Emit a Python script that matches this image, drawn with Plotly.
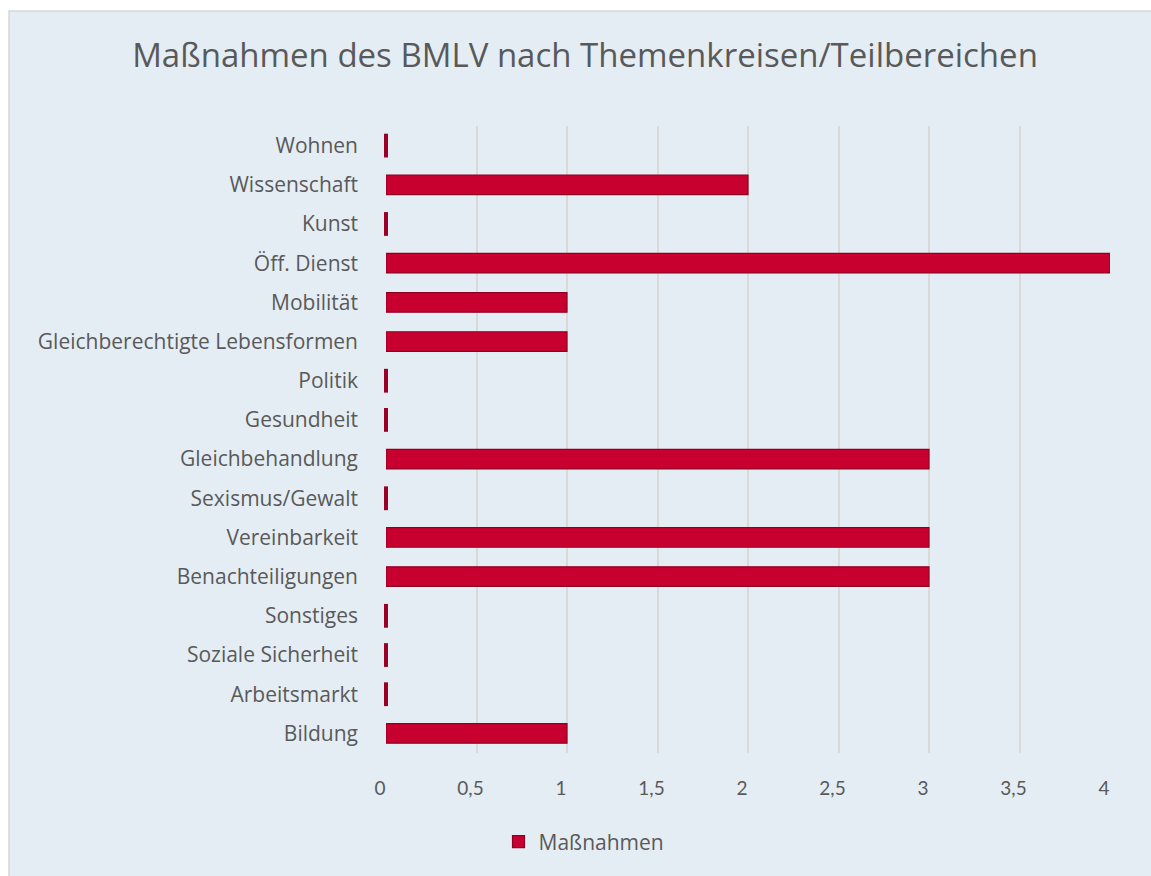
import plotly.graph_objects as go

categories = ["Bildung", "Arbeitsmarkt", "Soziale Sicherheit", "Sonstiges",
              "Benachteiligungen", "Vereinbarkeit", "Sexismus/Gewalt",
              "Gleichbehandlung", "Gesundheit", "Politik",
              "Gleichberechtigte Lebensformen", "Mobilität", "Öff. Dienst",
              "Kunst", "Wissenschaft", "Wohnen"]
values = [1, 0, 0, 0, 3, 3, 0, 3, 0, 0, 1, 1, 4, 0, 2, 0]
x_ticks = [0, 0.5, 1, 1.5, 2, 2.5, 3, 3.5, 4]
series_name = "Maßnahmen"
title_text = "Maßnahmen des BMLV nach Themenkreisen/Teilbereichen"

W, H = 1151, 876
L = 386
R = W - 1110
T = 126
B = H - 753
pw, ph = W - L - R, H - T - B

fig = go.Figure()
fig.add_trace(go.Bar(
    y=categories, x=values, orientation="h", name=series_name,
    marker=dict(color="#C8002F", line=dict(color="#8E0022", width=1.2)),
    showlegend=True,
))
zero_cats = [c for c, v in zip(categories, values) if v == 0]
zero_vals = [v for v in values if v == 0]
fig.add_trace(go.Scatter(
    y=zero_cats, x=zero_vals, mode="markers", showlegend=False,
    marker=dict(symbol="line-ns", size=17, color="#9A0026",
                line=dict(color="#9A0026", width=4)),
    hoverinfo="skip", cliponaxis=False,
))

fig.add_shape(type="rect", xref="paper", yref="paper",
              x0=(9 - L) / pw, x1=(W + 5 - L) / pw,
              y0=(T + ph - (H + 5)) / ph, y1=(T + ph - 11) / ph,
              fillcolor="#E5EDF4", line=dict(color="#D6D6D6", width=1.5),
              layer="below")

fig.update_layout(
    width=W, height=H,
    margin=dict(l=L, r=R, t=T, b=B, autoexpand=False),
    paper_bgcolor="white", plot_bgcolor="rgba(0,0,0,0)",
    separators=", ",
    font=dict(family="Open Sans", color="#595959"),
    title=dict(text=title_text, x=585 / W, xref="container",
               xanchor="center", y=1 - 55 / H, yref="container",
               yanchor="middle",
               font=dict(size=33, color="#595959", family="Open Sans")),
    bargap=0.5,
    xaxis=dict(range=[0, 4], tickvals=x_ticks, showgrid=True,
               gridcolor="#D9D9D9", gridwidth=2, zeroline=False,
               showline=False, ticks="", ticklabelstandoff=22,
               ticklabelshift=-6,
               tickfont=dict(size=19, color="#595959", family="Lato")),
    yaxis=dict(range=[-0.5, len(categories) - 0.5], showgrid=False,
               zeroline=False, showline=False, ticks="",
               ticklabelstandoff=27,
               tickfont=dict(size=21, color="#595959", family="Open Sans")),
    legend=dict(orientation="h", x=(584 - L) / pw, xanchor="center",
                y=(T + ph - 842) / ph, yanchor="middle",
                font=dict(size=21, color="#595959"),
                bgcolor="rgba(0,0,0,0)"),
)

fig.write_html(
    "out.html",
    config={"displayModeBar": False},
    post_script="document.body.style.margin='0px';"
                "document.body.style.overflow='hidden';",
)
